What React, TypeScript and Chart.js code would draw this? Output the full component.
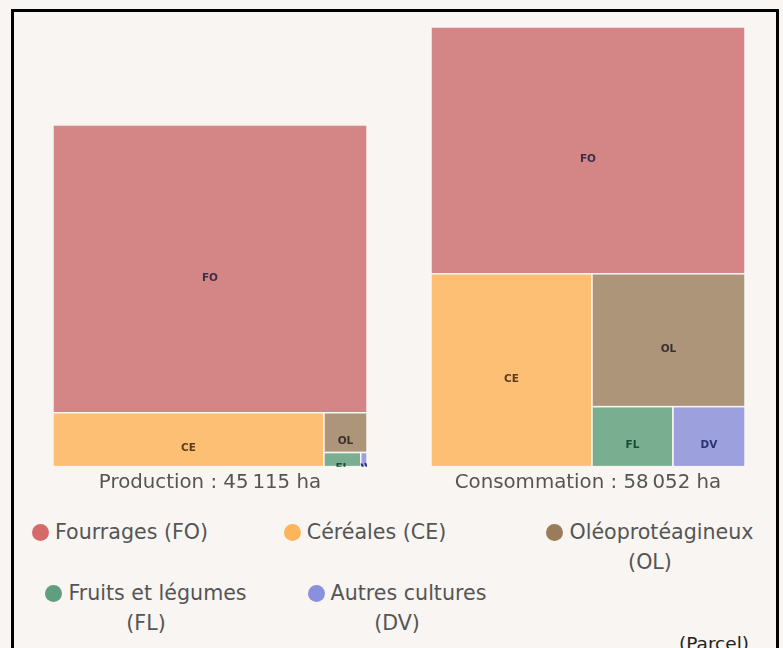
import React, { useEffect, useRef } from 'react';
import { Chart, registerables } from 'chart.js';

Chart.register(...registerables);

// ---------- data ----------
const categories = ['FO', 'CE', 'OL', 'FL', 'DV'];
const legendLabels = [
  'Fourrages (FO)',
  'Céréales (CE)',
  'Oléoprotéagineux (OL)',
  'Fruits et légumes (FL)',
  'Autres cultures (DV)',
];
const productionValues = [38000, 6140, 720, 218, 37];
const consumptionValues = [32588, 13056, 8551, 2042, 1815];
const panelTitles = ['Production : 45\u202f115 ha', 'Consommation : 58\u202f052 ha'];
const sourceNote = '(Parcel)';

// ---------- styles ----------
const fillColors = ['#d48585', '#fdbf73', '#ad957a', '#7aae90', '#9ca0dd'];
const legendColors = ['#d66a6a', '#fdb55c', '#9b7c5a', '#5f9e7e', '#8b90dc'];
const labelColors = ['#3b2f4a', '#5a3e1e', '#3a3030', '#1f4a36', '#2b3272'];
const BG = '#f8f5f2';
const FONT = "'DejaVu Sans', sans-serif";
const TEXT = '#555555';

const legendLayout = [
  { cx: 120, top: 517 },
  { cx: 365, top: 517 },
  { cx: 650, top: 517 },
  { cx: 146, top: 578 },
  { cx: 397, top: 578 },
];

type Cell = { i: number; x0: number; y0: number; x1: number; y1: number };

// squarified treemap layout (same algorithm as d3.treemapSquarify)
function squarify(values: number[], x0: number, y0: number, x1: number, y1: number): Cell[] {
  const ratio = (1 + Math.sqrt(5)) / 2;
  const nodes = values.map((v, i) => ({ i, v })).sort((a, b) => b.v - a.v);
  const out: Cell[] = [];
  let value = nodes.reduce((s, n) => s + n.v, 0);
  let i0 = 0;
  let i1 = 0;
  const n = nodes.length;
  while (i0 < n) {
    const dx = x1 - x0;
    const dy = y1 - y0;
    let sumValue = nodes[i1++].v;
    let minValue = sumValue;
    let maxValue = sumValue;
    const alpha = Math.max(dy / dx, dx / dy) / (value * ratio);
    let beta = sumValue * sumValue * alpha;
    let minRatio = Math.max(maxValue / beta, beta / minValue);
    for (; i1 < n; ++i1) {
      const nv = nodes[i1].v;
      sumValue += nv;
      if (nv < minValue) minValue = nv;
      if (nv > maxValue) maxValue = nv;
      beta = sumValue * sumValue * alpha;
      const newRatio = Math.max(maxValue / beta, beta / minValue);
      if (newRatio > minRatio) {
        sumValue -= nv;
        break;
      }
      minRatio = newRatio;
    }
    const row = nodes.slice(i0, i1);
    if (dx < dy) {
      const ny = y0 + (dy * sumValue) / value;
      let x = x0;
      for (const nd of row) {
        const w = ((x1 - x0) * nd.v) / sumValue;
        out.push({ i: nd.i, x0: x, y0, x1: x + w, y1: ny });
        x += w;
      }
      y0 = ny;
    } else {
      const nx = x0 + (dx * sumValue) / value;
      let y = y0;
      for (const nd of row) {
        const h = ((y1 - y0) * nd.v) / sumValue;
        out.push({ i: nd.i, x0, y0: y, x1: nx, y1: y + h });
        y += h;
      }
      x0 = nx;
    }
    value -= sumValue;
    i0 = i1;
  }
  return out;
}

const maxTotal = Math.max(
  productionValues.reduce((a, b) => a + b, 0),
  consumptionValues.reduce((a, b) => a + b, 0)
);

const treemapPlugin = {
  id: 'treemapCells',
  afterDatasetsDraw(chart: any) {
    const ds = chart.data.datasets[0] as any;
    const values: number[] = ds.treeValues;
    const total = values.reduce((a: number, b: number) => a + b, 0);
    const xs = chart.scales.x;
    const ys = chart.scales.y;
    const px0 = xs.getPixelForValue(0);
    const px1 = xs.getPixelForValue(1);
    const pyTop = ys.getPixelForValue(total);
    const pyBottom = ys.getPixelForValue(0);
    const cells = squarify(values, px0, pyTop, px1, pyBottom);
    const ctx = chart.ctx as CanvasRenderingContext2D;
    ctx.save();
    for (const c of cells) {
      ctx.fillStyle = fillColors[c.i];
      ctx.fillRect(c.x0, c.y0, c.x1 - c.x0, c.y1 - c.y0);
      ctx.strokeStyle = BG;
      ctx.lineWidth = 1.5;
      ctx.strokeRect(c.x0, c.y0, c.x1 - c.x0, c.y1 - c.y0);
    }
    for (const c of cells) {
      ctx.save();
      ctx.beginPath();
      ctx.rect(c.x0, c.y0, c.x1 - c.x0, c.y1 - c.y0);
      ctx.clip();
      ctx.fillStyle = labelColors[c.i];
      ctx.font = `bold 10.5px ${FONT}`;
      ctx.textAlign = 'center';
      ctx.textBaseline = 'middle';
      ctx.fillText(categories[c.i], (c.x0 + c.x1) / 2, (c.y0 + c.y1) / 2 + 9);
      ctx.restore();
    }
    ctx.restore();
  },
};

function TreemapPanel({ values, title, left }: { values: number[]; title: string; left: number }) {
  const ref = useRef<HTMLCanvasElement | null>(null);
  useEffect(() => {
    if (!ref.current) return;
    const chart = new Chart(ref.current, {
      type: 'scatter',
      data: {
        datasets: [
          {
            data: [],
            treeValues: values,
          } as any,
        ],
      },
      options: {
        responsive: false,
        animation: false,
        layout: { padding: { left: 20, right: 20, top: 10, bottom: 22.6 } },
        scales: {
          x: { type: 'linear', min: 0, max: 1, display: false },
          y: { type: 'linear', min: 0, max: maxTotal, display: false },
        },
        plugins: {
          legend: { display: false },
          tooltip: { enabled: false },
          title: {
            display: true,
            position: 'bottom',
            text: title,
            color: TEXT,
            font: { family: FONT, size: 19.8, weight: 'normal' },
            padding: { top: 4, bottom: 0 },
          },
        },
      },
      plugins: [treemapPlugin],
    });
    return () => chart.destroy();
  }, [values, title]);
  return (
    <canvas
      ref={ref}
      width={354}
      height={500}
      style={{ position: 'absolute', left, top: 17, width: 354, height: 500 }}
    />
  );
}

export default function App() {
  return (
    <div
      style={{
        position: 'absolute',
        left: 0,
        top: 0,
        width: 783,
        height: 648,
        overflow: 'hidden',
        background: BG,
        fontFamily: FONT,
      }}
    >
      <div
        style={{
          position: 'absolute',
          left: 11,
          top: 9,
          width: 768,
          height: 700,
          boxSizing: 'border-box',
          border: '3px solid #000',
        }}
      />
      <TreemapPanel values={productionValues} title={panelTitles[0]} left={33} />
      <TreemapPanel values={consumptionValues} title={panelTitles[1]} left={411} />
      {legendLabels.map((lab, i) => (
        <div
          key={lab}
          style={{
            position: 'absolute',
            left: legendLayout[i].cx - 115,
            top: legendLayout[i].top,
            width: 230,
            textAlign: 'center',
            fontSize: 20.6,
            lineHeight: '30px',
            color: TEXT,
          }}
        >
          <span
            style={{
              display: 'inline-block',
              width: 17,
              height: 17,
              borderRadius: '50%',
              background: legendColors[i],
              marginRight: 6,
              verticalAlign: '-2px',
            }}
          />
          {lab}
        </div>
      ))}
      <div
        style={{
          position: 'absolute',
          left: 679,
          top: 634.5,
          fontSize: 18.5,
          lineHeight: '18.5px',
          color: '#222',
          whiteSpace: 'nowrap',
        }}
      >
        {sourceNote}
      </div>
    </div>
  );
}
